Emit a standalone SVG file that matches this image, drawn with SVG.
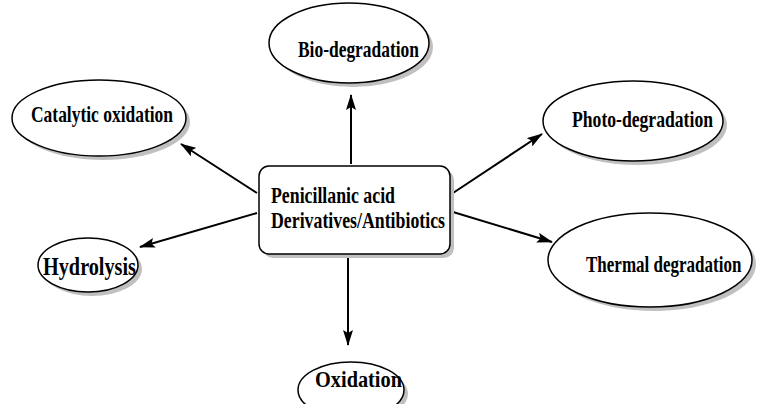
<svg xmlns="http://www.w3.org/2000/svg" width="757" height="404" viewBox="0 0 757 404">
<style>
.sh{fill:#c0c0c0;stroke:none}
.nd{fill:#fff;stroke:#000;stroke-width:1.5}
.t{font-family:"Liberation Serif","Times New Roman",serif;font-weight:bold;font-size:23px;fill:#000}
.c{stroke:#000;stroke-width:2;fill:none;marker-end:url(#ah)}
</style>
<defs>
<marker id="ah" viewBox="0 0 16 10" refX="15" refY="5" markerWidth="16" markerHeight="10" markerUnits="userSpaceOnUse" orient="auto">
<path d="M0,0 L16,5 L0,10 L3,5 Z" fill="#000"/>
</marker>
</defs>
<rect width="757" height="404" fill="#fff"/>
<g id="connectors">
<line class="c" x1="351" y1="164" x2="351" y2="95"/>
<line class="c" x1="257" y1="193" x2="181" y2="144"/>
<line class="c" x1="453" y1="193" x2="542" y2="134"/>
<line class="c" x1="257" y1="213" x2="140" y2="247"/>
<line class="c" x1="453" y1="212" x2="552" y2="242"/>
<line class="c" x1="348" y1="258" x2="348" y2="345"/>
</g>
<g id="center">
<rect class="sh" x="263" y="170" width="191" height="88" rx="10"/>
<rect class="nd" x="259" y="166" width="191" height="88" rx="10"/>
<text class="t" x="271" y="203" textLength="124" lengthAdjust="spacingAndGlyphs">Penicillanic acid</text>
<text class="t" x="271" y="228" textLength="174" lengthAdjust="spacingAndGlyphs">Derivatives/Antibiotics</text>
</g>
<g id="bio">
<ellipse class="sh" cx="353" cy="47" rx="80" ry="40"/>
<ellipse class="nd" cx="349" cy="43" rx="80" ry="40"/>
<text class="t" x="298" y="57" textLength="121" lengthAdjust="spacingAndGlyphs">Bio-degradation</text>
</g>
<g id="catalytic">
<ellipse class="sh" cx="103" cy="122" rx="87" ry="38"/>
<ellipse class="nd" cx="99" cy="118" rx="87" ry="38"/>
<text class="t" x="31" y="122" textLength="142" lengthAdjust="spacingAndGlyphs">Catalytic oxidation</text>
</g>
<g id="photo">
<ellipse class="sh" cx="637" cy="125" rx="90" ry="40"/>
<ellipse class="nd" cx="633" cy="121" rx="90" ry="40"/>
<text class="t" x="572" y="127" textLength="141" lengthAdjust="spacingAndGlyphs">Photo-degradation</text>
</g>
<g id="hydrolysis">
<ellipse class="sh" cx="92" cy="269" rx="50" ry="27"/>
<ellipse class="nd" cx="88" cy="265" rx="50" ry="27"/>
<text class="t" x="43" y="275" textLength="93" lengthAdjust="spacingAndGlyphs" style="font-size:26px">Hydrolysis</text>
</g>
<g id="thermal">
<ellipse class="sh" cx="654" cy="264" rx="102" ry="47"/>
<ellipse class="nd" cx="650" cy="260" rx="102" ry="47"/>
<text class="t" transform="translate(586,272) scale(0.74,1)">Thermal degradation</text>
</g>
<g id="oxidation">
<ellipse class="sh" cx="355" cy="394" rx="53" ry="28"/>
<ellipse class="nd" cx="351" cy="390" rx="53" ry="28"/>
<text class="t" x="315" y="387" textLength="87" lengthAdjust="spacingAndGlyphs">Oxidation</text>
</g>
</svg>
